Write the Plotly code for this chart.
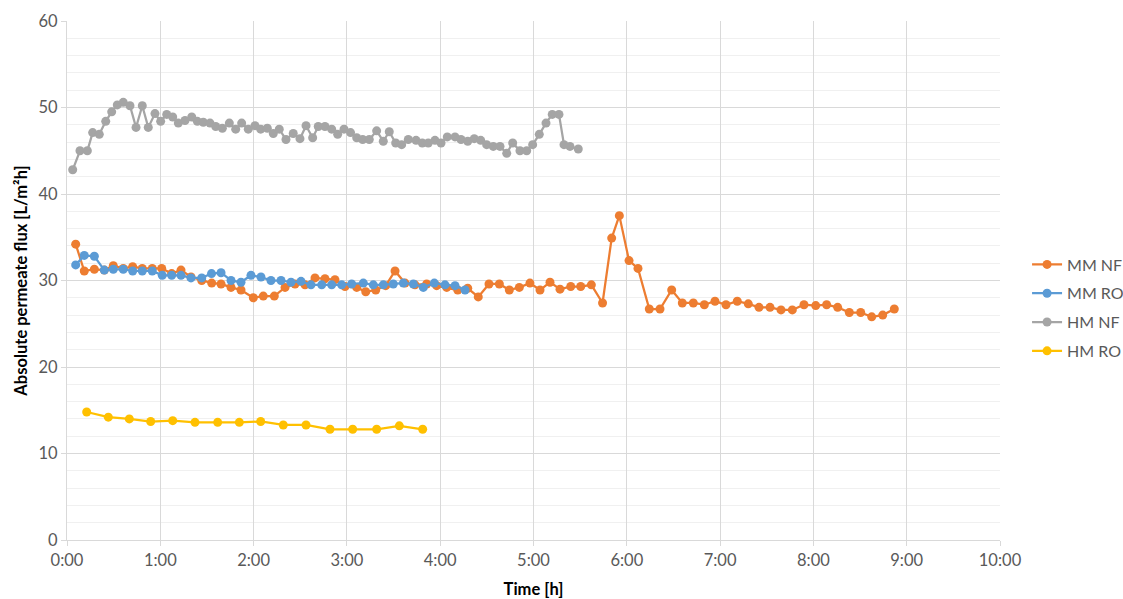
import plotly.graph_objects as go

# ---- data (time in hours, flux in L/m2h) ----
mm_nf_t = [0.093, 0.185, 0.293, 0.400, 0.496, 0.603, 0.704, 0.807, 0.914, 1.015, 1.122, 1.222,
           1.329, 1.444, 1.551, 1.651, 1.758, 1.865, 1.997, 2.104, 2.222, 2.337, 2.444, 2.551,
           2.658, 2.765, 2.872, 2.980, 3.105, 3.202, 3.309, 3.416, 3.516, 3.623, 3.730, 3.855,
           3.962, 4.070, 4.188, 4.295, 4.408, 4.523, 4.634, 4.741, 4.848, 4.962, 5.070, 5.177,
           5.284, 5.399, 5.506, 5.620, 5.740, 5.838, 5.920, 6.024, 6.120, 6.241, 6.356, 6.481,
           6.595, 6.713, 6.831, 6.945, 7.063, 7.184, 7.302, 7.417, 7.535, 7.653, 7.774, 7.899,
           8.025, 8.142, 8.260, 8.385, 8.507, 8.625, 8.743, 8.867]
mm_nf_v = [34.2, 31.1, 31.3, 31.2, 31.7, 31.4, 31.6, 31.4, 31.4, 31.4, 30.8, 31.2,
           30.4, 30.0, 29.7, 29.6, 29.2, 28.9, 28.0, 28.2, 28.2, 29.2, 29.6, 29.5,
           30.3, 30.2, 30.1, 29.3, 29.2, 28.7, 28.9, 29.4, 31.1, 29.7, 29.5, 29.6,
           29.4, 29.2, 28.9, 29.1, 28.1, 29.6, 29.6, 28.9, 29.2, 29.7, 28.9, 29.8,
           29.0, 29.3, 29.3, 29.5, 27.4, 34.9, 37.5, 32.3, 31.4, 26.7, 26.7, 28.9,
           27.4, 27.4, 27.2, 27.6, 27.2, 27.6, 27.3, 26.9, 26.9, 26.6, 26.6, 27.2,
           27.1, 27.2, 26.9, 26.3, 26.3, 25.8, 26.0, 26.7]

mm_ro_t = [0.093, 0.185, 0.293, 0.400, 0.496, 0.603, 0.704, 0.807, 0.914, 1.021, 1.122, 1.222,
           1.329, 1.444, 1.549, 1.651, 1.758, 1.865, 1.972, 2.079, 2.186, 2.294, 2.401, 2.508,
           2.615, 2.730, 2.837, 2.944, 3.051, 3.176, 3.283, 3.390, 3.497, 3.605, 3.712, 3.819,
           3.937, 4.051, 4.159, 4.266]
mm_ro_v = [31.8, 32.9, 32.8, 31.2, 31.3, 31.3, 31.1, 31.1, 31.1, 30.6, 30.6, 30.6,
           30.3, 30.3, 30.8, 30.9, 30.0, 29.8, 30.6, 30.4, 30.0, 30.0, 29.8, 29.9,
           29.5, 29.5, 29.5, 29.5, 29.6, 29.7, 29.5, 29.5, 29.6, 29.7, 29.6, 29.2,
           29.7, 29.5, 29.4, 28.9]

hm_nf_t = [0.061, 0.139, 0.218, 0.275, 0.346, 0.415, 0.479, 0.539, 0.603, 0.675, 0.740, 0.807,
           0.871, 0.943, 1.004, 1.069, 1.133, 1.193, 1.265, 1.337, 1.397, 1.461, 1.533, 1.594,
           1.665, 1.740, 1.808, 1.872, 1.943, 2.015, 2.076, 2.147, 2.211, 2.275, 2.347, 2.425,
           2.497, 2.562, 2.633, 2.693, 2.765, 2.837, 2.901, 2.969, 3.039, 3.105, 3.169, 3.240,
           3.319, 3.390, 3.454, 3.523, 3.587, 3.658, 3.741, 3.808, 3.872, 3.944, 4.009, 4.076,
           4.159, 4.223, 4.295, 4.365, 4.434, 4.498, 4.569, 4.641, 4.713, 4.777, 4.855, 4.927,
           4.991, 5.062, 5.134, 5.201, 5.273, 5.327, 5.391, 5.480]
hm_nf_v = [42.8, 45.0, 45.0, 47.1, 46.9, 48.4, 49.5, 50.3, 50.6, 50.2, 47.7, 50.2,
           47.7, 49.3, 48.4, 49.2, 48.9, 48.2, 48.5, 48.9, 48.4, 48.3, 48.2, 47.8,
           47.6, 48.2, 47.5, 48.2, 47.5, 47.9, 47.5, 47.6, 47.0, 47.5, 46.3, 47.0,
           46.4, 47.9, 46.5, 47.8, 47.8, 47.5, 46.9, 47.5, 47.1, 46.5, 46.3, 46.3,
           47.3, 46.1, 47.2, 45.9, 45.7, 46.3, 46.2, 45.9, 45.9, 46.2, 45.9, 46.6,
           46.6, 46.3, 46.1, 46.4, 46.2, 45.7, 45.5, 45.5, 44.7, 45.9, 45.0, 45.0,
           45.7, 46.9, 48.2, 49.2, 49.2, 45.7, 45.5, 45.2]

hm_ro_t = [0.211, 0.443, 0.668, 0.897, 1.133, 1.372, 1.615, 1.847, 2.076, 2.318, 2.562, 2.819,
           3.062, 3.319, 3.562, 3.812]
hm_ro_v = [14.8, 14.2, 14.0, 13.7, 13.8, 13.6, 13.6, 13.6, 13.7, 13.3, 13.3, 12.8,
           12.8, 12.8, 13.2, 12.8]

x_tick_vals = list(range(0, 11))
x_tick_text = [f"{h}:00" for h in x_tick_vals]

series = [
    ("MM NF", mm_nf_t, mm_nf_v, "#ED7D31"),
    ("MM RO", mm_ro_t, mm_ro_v, "#5B9BD5"),
    ("HM NF", hm_nf_t, hm_nf_v, "#A5A5A5"),
    ("HM RO", hm_ro_t, hm_ro_v, "#FFC000"),
]

FONT = "Lato, 'Open Sans', sans-serif"

fig = go.Figure()
for name, t, v, c in series:
    fig.add_trace(go.Scatter(
        x=t, y=v, name=name, mode="lines+markers", legendgroup=name,
        line=dict(color=c, width=2.25),
        marker=dict(color=c, size=9, line=dict(width=0)),
    ))

fig.update_layout(
    width=1123, height=599,
    margin=dict(l=67, r=123, t=21, b=59, autoexpand=False),
    paper_bgcolor="white", plot_bgcolor="white",
    font=dict(family=FONT, size=16.5, color="#595959"),
    legend=dict(x=1.029, xanchor="left", y=0.447, yanchor="middle",
                tracegroupgap=5, font=dict(size=16, color="#595959"),
                bgcolor="rgba(0,0,0,0)"),
    showlegend=True,
)
fig.update_xaxes(
    range=[0, 10], tickvals=x_tick_vals, ticktext=x_tick_text,
    showgrid=True, gridcolor="#d9d9d9", gridwidth=1,
    showline=True, linecolor="#d9d9d9", linewidth=1,
    ticks="outside", ticklen=5, tickcolor="#d9d9d9",
    zeroline=False,
    title=dict(text="<b>Time [h]</b>", font=dict(size=16.5, color="black"), standoff=16),
)
fig.update_yaxes(
    range=[0, 60], dtick=10,
    showgrid=True, gridcolor="#d9d9d9", gridwidth=1,
    minor=dict(dtick=2, showgrid=True, gridcolor="#f0f0f0", ticks=""),
    showline=True, linecolor="#d9d9d9", linewidth=1,
    ticks="outside", ticklen=5, tickcolor="#d9d9d9",
    zeroline=False,
    title=dict(text="<b>Absolute permeate flux [L/m²h]</b>", font=dict(size=16.5, color="black"), standoff=6),
)

fig.write_html("out.html", config={"displayModeBar": False},
               post_script="document.body.style.margin='0px';")
